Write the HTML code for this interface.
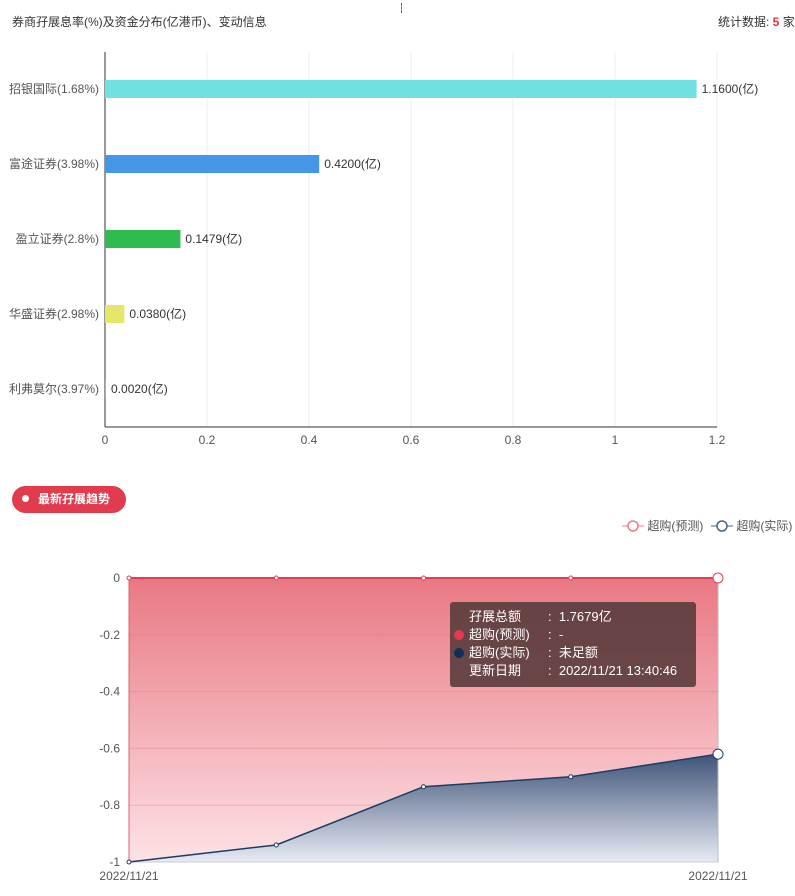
<!DOCTYPE html>
<html><head><meta charset="utf-8"><style>
body{margin:0;width:795px;height:896px;background:#fff;font-family:"Liberation Sans","Noto Sans CJK SC",sans-serif;overflow:hidden;position:relative}
.t{position:absolute;font-size:12px;color:#333;white-space:nowrap}
</style></head><body>
<div class="t" style="left:12px;top:13px">券商孖展息率(%)及资金分布(亿港币)、变动信息</div>
<div class="t" style="left:718px;top:13px">统计数据: <b style="color:#e0303a">5</b> 家</div>
<div style="position:absolute;left:401px;top:3px;height:10px;border-left:1px dashed #666"></div>
<svg width="795" height="896" style="position:absolute;left:0;top:0" font-family="Liberation Sans, Noto Sans CJK SC, sans-serif">
<g id="bar"></g>
<g id="line"></g>
</svg>
<div style="position:absolute;left:12px;top:486px;width:114px;height:27px;border-radius:14px;background:#e13b4d;color:#fff;font-size:12px;font-weight:bold;line-height:27px"><span style="display:inline-block;width:7px;height:7px;border-radius:50%;background:#fff;margin:0 9px 0 10px;vertical-align:1px"></span>最新孖展趋势</div>
<div class="t" style="left:622px;top:517px;color:#555"><svg width="22" height="12" style="vertical-align:-2px"><line x1="0" y1="6" x2="22" y2="6" stroke="#e87d8a"/><circle cx="11" cy="6" r="5" fill="#fff" stroke="#e87d8a" stroke-width="1.5"/></svg> 超购(预测)</div>
<div class="t" style="left:711px;top:517px;color:#555"><svg width="22" height="12" style="vertical-align:-2px"><line x1="0" y1="6" x2="22" y2="6" stroke="#4a6483"/><circle cx="11" cy="6" r="5" fill="#fff" stroke="#4a6483" stroke-width="1.5"/></svg> 超购(实际)</div>
<div style="position:absolute;left:450px;top:602px;width:246px;height:85px;background:rgba(90,60,60,0.9);border-radius:3px;color:#fff;font-size:13px;line-height:18px;padding-top:6px;box-sizing:border-box">
<div style="padding-left:19px">孖展总额<span style="position:absolute;left:98px">:&nbsp; 1.7679亿</span></div>
<div style="padding-left:19px;position:relative"><span style="position:absolute;left:4px;top:4px;width:10px;height:10px;border-radius:50%;background:#e13b4d"></span>超购(预测)<span style="position:absolute;left:98px">:&nbsp; -</span></div>
<div style="padding-left:19px;position:relative"><span style="position:absolute;left:4px;top:4px;width:10px;height:10px;border-radius:50%;background:#0e2e5c"></span>超购(实际)<span style="position:absolute;left:98px">:&nbsp; 未足额</span></div>
<div style="padding-left:19px">更新日期<span style="position:absolute;left:98px">:&nbsp; 2022/11/21 13:40:46</span></div>
</div>
<script>
const brokers=["招银国际(1.68%)","富途证券(3.98%)","盈立证券(2.8%)","华盛证券(2.98%)","利弗莫尔(3.97%)"];
const amounts=[1.16,0.42,0.1479,0.038,0.002];
const amountLabels=["1.1600(亿)","0.4200(亿)","0.1479(亿)","0.0380(亿)","0.0020(亿)"];
const barColors=["#70e1e1","#4596e6","#30bb50","#e6e66a","#8fd14f"];
const xTicks=[0,0.2,0.4,0.6,0.8,1,1.2];
const lineCats=["2022/11/21","","","","2022/11/21"];
const forecast=[0,0,0,0,0];
const actual=[-1,-0.94,-0.735,-0.70,-0.62];
const yTicks=[0,-0.2,-0.4,-0.6,-0.8,-1];
const NS="http://www.w3.org/2000/svg";
function mk(p,t,a,txt){const e=document.createElementNS(NS,t);for(const k in a)e.setAttribute(k,a[k]);if(txt!==undefined)e.textContent=txt;p.appendChild(e);return e;}
const B=document.getElementById('bar');
const bx=v=>105+v/1.2*612, by=i=>89+i*75;
xTicks.forEach(v=>{if(v>0){const g=mk(B,'line',{x1:bx(v),x2:bx(v),y1:52,y2:427,stroke:'#eee'});}
const t=mk(B,'text',{x:bx(v),y:444,'font-size':12,fill:'#555','text-anchor':'middle'},String(v));});
mk(B,'line',{x1:105,x2:717,y1:427,y2:427,stroke:'#333'});
mk(B,'line',{x1:105,x2:105,y1:52,y2:427,stroke:'#333'});
brokers.forEach((n,i)=>{
const t=mk(B,'text',{x:99,y:by(i)+4,'font-size':12,fill:'#555','text-anchor':'end'},n);
const r=mk(B,'rect',{x:105,y:by(i)-9,width:Math.max(1,bx(amounts[i])-105),height:18,fill:barColors[i]});
const l=mk(B,'text',{x:bx(amounts[i])+5,y:by(i)+4,'font-size':12,fill:'#333'},amountLabels[i]);});
const L=document.getElementById('line');
const lx=i=>129+i*(718-129)/(lineCats.length-1), ly=v=>578-v*284;
const defs=mk(L,'defs',{});
const g1=mk(defs,'linearGradient',{id:'gr',x1:0,y1:0,x2:0,y2:1});mk(g1,'stop',{offset:0,'stop-color':'#e97883'});mk(g1,'stop',{offset:1,'stop-color':'#fde2e5'});
const g2=mk(defs,'linearGradient',{id:'gb',x1:0,y1:0,x2:0,y2:1});mk(g2,'stop',{offset:0,'stop-color':'#3e5478'});mk(g2,'stop',{offset:1,'stop-color':'#e8eaf4'});
let pf=forecast.map((v,i)=>lx(i)+','+ly(v)).join(' ');
mk(L,'polygon',{points:pf+' '+lx(4)+','+ly(-1)+' '+lx(0)+','+ly(-1),fill:'url(#gr)'});
yTicks.forEach(v=>{const g=mk(L,'line',{x1:129,x2:718,y1:ly(v),y2:ly(v),stroke:'rgba(200,100,110,0.25)'});
const t=mk(L,'text',{x:120,y:ly(v)+4,'font-size':12,fill:'#555','text-anchor':'end'},String(v));});
let pa=actual.map((v,i)=>lx(i)+','+ly(v)).join(' ');
mk(L,'polygon',{points:pa+' '+lx(4)+','+ly(-1)+' '+lx(0)+','+ly(-1),fill:'url(#gb)'});
mk(L,'line',{x1:718,x2:718,y1:578,y2:862,stroke:'#bbb'});
mk(L,'line',{x1:129,x2:718,y1:862,y2:862,stroke:'#ccc'});
mk(L,'line',{x1:129,x2:129,y1:578,y2:862,stroke:'#e06070'});
mk(L,'polyline',{points:pf,fill:'none',stroke:'#e0404f','stroke-width':2});
mk(L,'polyline',{points:pa,fill:'none',stroke:'#1b3d66','stroke-width':1.5});
forecast.forEach((v,i)=>{const c=mk(L,'circle',{cx:lx(i),cy:ly(v),r:i==4?5:2,fill:'#fff',stroke:'#e0404f'});});
actual.forEach((v,i)=>{const c=mk(L,'circle',{cx:lx(i),cy:ly(v),r:i==4?5:2,fill:'#fff',stroke:'#1b3d66'});});
lineCats.forEach((c,i)=>{if(c){const t=mk(L,'text',{x:lx(i),y:880,'font-size':12,fill:'#555','text-anchor':'middle'},c);}});
</script>
</body></html>
